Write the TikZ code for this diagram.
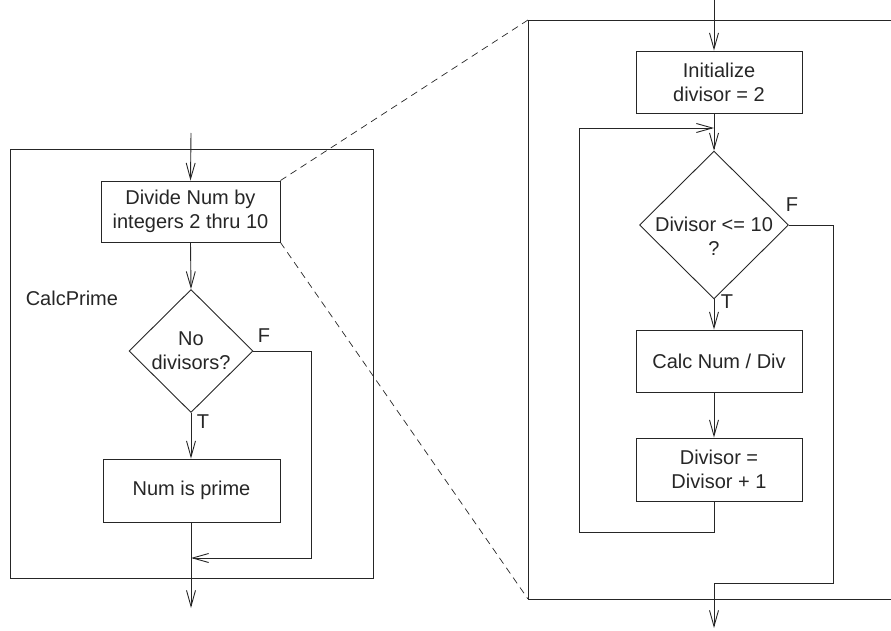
\documentclass[tikz,border=0pt]{standalone}
\usepackage{fontspec}
\setmainfont{Liberation Sans}
\usetikzlibrary{arrows.meta,shapes.geometric}
\tikzset{flowbox/.style={draw, minimum width=166pt, minimum height=62pt, inner sep=0pt, align=center}}
\tikzset{flowdec/.style={draw, diamond, inner sep=0pt, align=center}}
\tikzset{flowarrow/.style={-{Straight Barb[length=16pt,width=9pt,line width=0.9pt]}}}

\begin{document}
\begin{tikzpicture}[x=1pt, y=-1pt, line width=0.9pt, color={black!85}, font=\fontsize{20}{24}\selectfont]
\useasboundingbox (0,0) rectangle (891,631);
\node[draw, minimum width=363pt, minimum height=429pt] (calcprime) at (191.5,363.5) {};
\node[anchor=west] (cpname) at (22,298) {CalcPrime};
\node[flowbox, minimum width=179pt, minimum height=61pt] (divide) at (190.5,211.5) {Divide Num by\\integers 2 thru 10};
\node[flowdec, minimum width=124pt, minimum height=123pt] (nodiv) at (191,351) {No\\divisors?};
\node[flowbox, minimum width=177pt, minimum height=63pt] (prime) at (191.5,490.5) {Num is prime};
\node (fl) at (264,336) {F};
\node (tl) at (203,422) {T};
\coordinate (inL) at (191,133);
\coordinate (outL) at (191,608);
\draw[flowarrow] (inL) -- (divide.north);
\draw[flowarrow] (divide.south) -- (nodiv.north);
\draw[flowarrow] (nodiv.south) -- (prime.north -| nodiv.south);
\draw[flowarrow] (prime.south -| nodiv.south) -- (outL);
\draw[flowarrow] (nodiv.east) -| (311,558) -- (191,558);
\draw[dash pattern=on 7pt off 5pt, line width=0.7pt] (divide.north east) -- (528,20);
\draw[dash pattern=on 7pt off 5pt, line width=0.7pt] (divide.south east) -- (528,599);
\draw (891,20) -| (528,599) -- (891,599);
\node[flowbox] (init) at (719,82) {Initialize\\divisor = 2};
\node[flowdec, inner xsep=-4pt, inner ysep=-11pt, minimum width=149pt, minimum height=147pt] (cond) at (714,225) {\rule{0pt}{36pt}Divisor <= 10\\?};
\node[flowbox] (calc) at (719,361) {Calc Num / Div};
\node[flowbox, minimum height=63pt] (incr) at (719,469.5) {Divisor =\\Divisor + 1};
\node (fr) at (792,205) {F};
\node (tr) at (727,302) {T};
\coordinate (inR) at (714,0);
\coordinate (outR) at (714,628);
\draw[flowarrow] (inR) -- (init.north -| inR);
\draw[flowarrow] (init.south -| inR) -- (cond.north);
\draw[flowarrow] (cond.south) -- (calc.north -| inR);
\draw[flowarrow] (calc.south -| inR) -- (incr.north -| inR);
\draw[flowarrow] (incr.south -| inR) -- (714,532) -| (579,128) -- (714,128);
\draw[flowarrow] (cond.east) -| (833,583) -| (outR);
\end{tikzpicture}
\end{document}
